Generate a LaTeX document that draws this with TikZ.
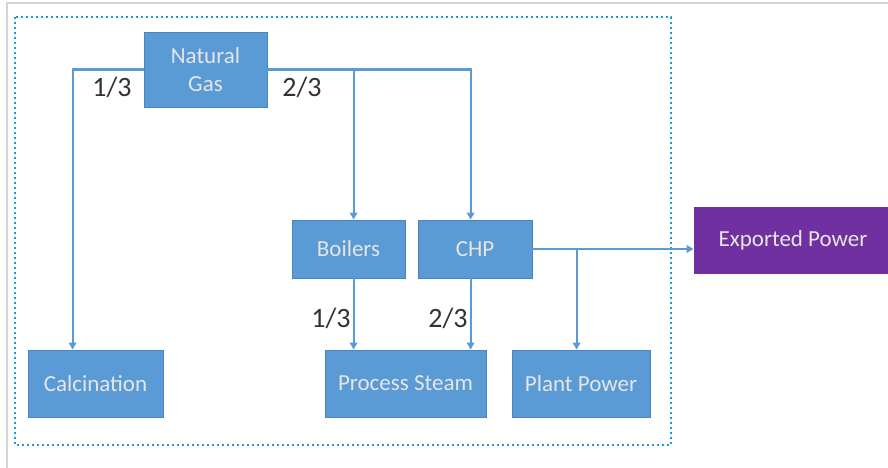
\documentclass[tikz,border=0pt]{standalone}
\usepackage{fontspec}
\setmainfont{Carlito}
\usetikzlibrary{arrows.meta}
\definecolor{boxblue}{HTML}{5B9BD5}
\definecolor{boxedge}{HTML}{4A83BD}
\definecolor{linkblue}{HTML}{5B9BD5}
\definecolor{dotblue}{HTML}{1E9BD7}
\definecolor{exportpurple}{HTML}{7030A0}
\definecolor{labelgray}{HTML}{333333}
\definecolor{framegray}{HTML}{D4D4D4}
\begin{document}
\begin{tikzpicture}[x=1pt,y=-1pt,
  block/.style={draw=boxedge, fill=boxblue, line width=0.8pt, text=white!90!black,
    font=\fontsize{23}{28}\selectfont, align=center, inner sep=0pt},
  link/.style={draw=linkblue, line width=2.2pt, -{Triangle[width=7.5pt,length=7pt]}},
  share/.style={text=labelgray, font=\fontsize{28}{30}\selectfont}]
\useasboundingbox (0,0) rectangle (888,468);
\fill[white] (0,0) rectangle (888,468);
% page frame
\draw[framegray, line width=2pt] (7,468) -- (7,3.5) -- (888,3.5);
% site boundary
\draw[dotblue, line width=2.6pt, dash pattern=on 2.4pt off 2.6pt] (15,17) rectangle (671,445);

% blocks
\node[block, minimum width=123pt, minimum height=75pt] (ng) at (205.5,69.5) {Natural\\Gas};
\node[block, minimum width=113pt, minimum height=58pt] (boil) at (348.5,249) {Boilers};
\node[block, minimum width=114pt, minimum height=58pt] (chp) at (475,249) {CHP};
\node[block, minimum width=135pt, minimum height=67pt] (calc) at (95.5,383.5) {Calcination};
\node[block, minimum width=161pt, minimum height=67pt] (ps) at (405.5,383.5) {Process Steam};
\node[block, minimum width=138pt, minimum height=67pt] (pp) at (581,383.5) {Plant Power};
\node[block, draw=exportpurple, fill=exportpurple, minimum width=198pt, minimum height=66pt] (exp) at (793,240) {Exported Power};

% connectors
\coordinate (calcin) at ([xshift=45pt]calc.north west);
\coordinate (boilin) at ([xshift=62pt]boil.north west);
\coordinate (chpin) at ([xshift=53pt]chp.north west);
\coordinate (boilout) at ([xshift=62pt]boil.south west);
\coordinate (chpout) at ([xshift=53pt]chp.south west);
\coordinate (ppin) at ([xshift=65pt]pp.north west);

\draw[link] (ng.west) -| (calcin);
\draw[link] (ng.east) -| (chpin);
\draw[link] (ng.east -| boilin) -- (boilin);
\draw[link] (boilout) -- (boilout |- ps.north);
\draw[link] (chpout) -- (chpout |- ps.north);
\draw[link] (chp.east) -- (chp.east -| exp.west);
\draw[link] (chp.east -| ppin) -- (ppin);

% split labels
\node[share] (s1) at (112,87) {1/3};
\node[share] (s2) at (302,87) {2/3};
\node[share] (s3) at (331,318) {1/3};
\node[share] (s4) at (448,318) {2/3};
\end{tikzpicture}
\end{document}
